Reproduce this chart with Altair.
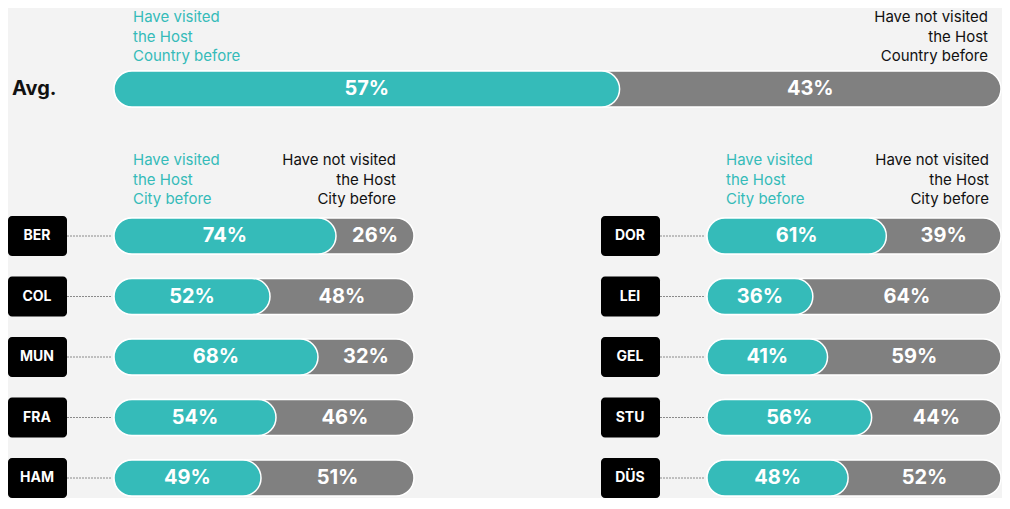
import altair as alt
import pandas as pd

# ---- data ----
avg_label = ["Avg."]
avg_visited = [57]
avg_not_visited = [43]

left_cities = ["BER", "COL", "MUN", "FRA", "HAM"]
left_visited = [74, 52, 68, 54, 49]
left_not_visited = [26, 48, 32, 46, 51]

right_cities = ["DOR", "LEI", "GEL", "STU", "DÜS"]
right_visited = [61, 36, 41, 56, 48]
right_not_visited = [39, 64, 59, 44, 52]

NB = "\u00a0"
country_visited_text = "Have visited\nthe Host\nCountry before"
country_not_text = f"Have not visited{NB}\nthe Host{NB}\nCountry before"
city_visited_text = "Have visited\nthe Host\nCity before"
city_not_text = f"Have not visited{NB}\nthe Host{NB}\nCity before"

# ---- style ----
TEAL = "#35bbb9"
GREY = "#808080"
BG = "#f3f3f3"
FONT = "Inter"
BAR_H = 36


def bar_layers(df, xs, y=None, text_y=None):
    base = alt.Chart(df).transform_calculate(
        start="0",
        total="datum.visited + datum.notv",
        mid_v="datum.visited / 2",
        mid_n="datum.visited + datum.notv / 2",
        lab_v="datum.visited + '%'",
        lab_n="datum.notv + '%'",
    )
    if y is None:
        enc_y = {"y": alt.value(0), "y2": alt.value(BAR_H)}
        enc_ty = {"y": text_y}
    else:
        enc_y = {"y": y}
        enc_ty = {"y": y}
    bar_kw = dict(cornerRadius=BAR_H / 2, stroke="white", strokeWidth=1.5)
    if y is not None:
        bar_kw["height"] = BAR_H
    grey = base.mark_bar(color=GREY, **bar_kw).encode(
        x=alt.X("start:Q", scale=xs, axis=None), x2="total:Q", **enc_y
    )
    teal = base.mark_bar(color=TEAL, **bar_kw).encode(
        x=alt.X("start:Q", scale=xs, axis=None), x2="visited:Q", **enc_y
    )
    tv = base.mark_text(color="white", fontWeight="bold", fontSize=20, baseline="middle").encode(
        x=alt.X("mid_v:Q", scale=xs, axis=None), text="lab_v:N", **enc_ty
    )
    tn = base.mark_text(color="white", fontWeight="bold", fontSize=20, baseline="middle").encode(
        x=alt.X("mid_n:Q", scale=xs, axis=None), text="lab_n:N", **enc_ty
    )
    return [grey, teal, tv, tn]


def header(text, x, y, align, color):
    return alt.Chart(pd.DataFrame({"t": [text]})).mark_text(
        align=align, baseline="middle", fontSize=15, lineBreak="\n",
        lineHeight=19.5, color=color,
    ).encode(x=alt.value(x), y=alt.value(y), text="t:N")


# ---- top (average) ----
TOP_W = 887
avg_df = pd.DataFrame({"label": avg_label, "visited": avg_visited, "notv": avg_not_visited})
xs_top = alt.Scale(domain=[0, 100], nice=False)
top_layers = bar_layers(avg_df, xs_top, y=None, text_y=alt.value(BAR_H / 2))
avg_text = alt.Chart(avg_df).mark_text(
    align="left", baseline="middle", fontSize=20, fontWeight="bold", color="#111111"
).encode(x=alt.value(-102), y=alt.value(BAR_H / 2), text="label:N")
top = alt.layer(
    *top_layers,
    avg_text,
    header(country_visited_text, 19, -54, "left", TEAL),
    header(country_not_text, TOP_W - 13, -54, "right", "#111111"),
).properties(width=TOP_W, height=BAR_H)


# ---- panels ----
STEP = 60.5


def panel(cities, visited, notv, width):
    df = pd.DataFrame({"city": cities, "visited": visited, "notv": notv})
    xs = alt.Scale(domain=[0, 100], nice=False)
    y = alt.Y("city:N", sort=cities, scale=alt.Scale(type="point", padding=0), axis=None)
    boxes = alt.Chart(df).mark_bar(color="black", cornerRadius=4, height=40).encode(
        x=alt.value(-106), x2=alt.value(-47), y=y
    )
    box_text = alt.Chart(df).mark_text(
        color="white", fontWeight="bold", fontSize=14, baseline="middle"
    ).encode(x=alt.value(-77), y=y, text="city:N")
    conn = alt.Chart(df).mark_rule(color="#8a8a8a", strokeDash=[2, 1], strokeWidth=1).encode(
        x=alt.value(-47), x2=alt.value(-2), y=y
    )
    layers = bar_layers(df, xs, y=y)
    return alt.layer(
        conn, boxes, box_text, *layers,
        header(city_visited_text, 19, -76, "left", TEAL),
        header(city_not_text, 282, -76, "right", "#111111"),
    ).properties(width=width, height=STEP * (len(cities) - 1))


left = panel(left_cities, left_visited, left_not_visited, 300)
right = panel(right_cities, right_visited, right_not_visited, 294)

bottom = alt.hconcat(left, right, spacing=293, bounds="flush")

chart = alt.vconcat(top, bottom, spacing=129, bounds="flush").properties(
    padding={"top": 2, "left": 0, "right": 0, "bottom": 0}, background=BG
).configure_view(stroke=None).configure_text(font=FONT)

chart.save("out.html", embed_options={"renderer": "svg", "actions": False})
